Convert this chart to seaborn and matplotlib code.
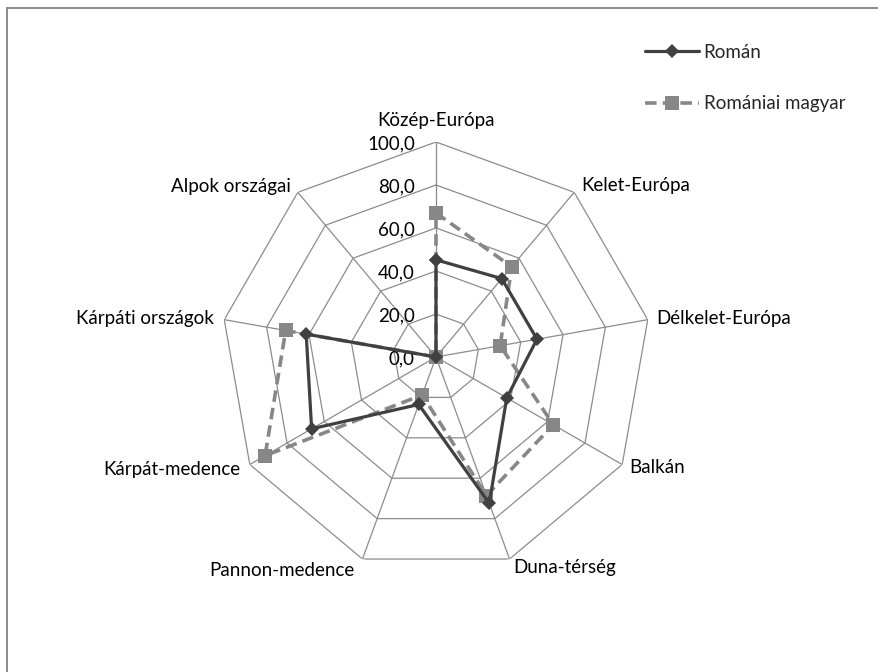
import numpy as np
import pandas as pd
import matplotlib
matplotlib.use("Agg")
import matplotlib.pyplot as plt
import matplotlib.transforms as mtransforms
from matplotlib.lines import Line2D
import seaborn as sns

categories = ["Közép-Európa", "Kelet-Európa", "Délkelet-Európa", "Balkán",
              "Duna-térség", "Pannon-medence", "Kárpát-medence",
              "Kárpáti országok", "Alpok országai"]
roman = [45.2, 47.6, 47.7, 38.0, 72.4, 23.5, 66.8, 61.3, 0.0]
magyar = [67.0, 54.8, 30.3, 63.0, 68.6, 18.8, 91.8, 71.0, 0.0]
series_names = ["Román", "Romániai magyar"]
tick_values = [0, 20, 40, 60, 80, 100]
tick_labels = ["0,0", "20,0", "40,0", "60,0", "80,0", "100,0"]

sns.set_theme(style="white")
plt.rcParams["font.family"] = ["Lato", "DejaVu Sans"]

W, H, DPI = 879, 672, 100
fig = plt.figure(figsize=(W / DPI, H / DPI), dpi=DPI)

cx, cy, R = 436, 357, 215
ax = fig.add_axes([(cx - R) / W, (H - cy - R) / H, 2 * R / W, 2 * R / H],
                  projection="polar")
ax.set_theta_zero_location("N")
ax.set_theta_direction(-1)
ax.set_ylim(0, 100)
ax.set_axis_off()

n = len(categories)
theta = np.linspace(0, 2 * np.pi, n, endpoint=False)
theta_closed = np.append(theta, 2 * np.pi)

grid_color = "#8c8c8c"
for r in tick_values[1:]:
    ax.plot(theta_closed, [r] * (n + 1), color=grid_color, lw=0.9, zorder=1)
for t in theta:
    ax.plot([t, t], [0, 100], color=grid_color, lw=0.9, zorder=1)

df = pd.DataFrame({
    "theta": np.concatenate([theta_closed, theta_closed]),
    "value": roman + [roman[0]] + magyar + [magyar[0]],
    "series": [series_names[0]] * (n + 1) + [series_names[1]] * (n + 1),
})

sns.lineplot(data=df[df.series == series_names[1]], x="theta", y="value",
             sort=False, estimator=None, ax=ax, color="#878787", lw=2.6,
             linestyle=(0, (3.2, 1.7)), marker="s", markersize=9.5,
             markeredgewidth=0, label=series_names[1], zorder=3, legend=False)
sns.lineplot(data=df[df.series == series_names[0]], x="theta", y="value",
             sort=False, estimator=None, ax=ax, color="#404040", lw=2.3,
             marker="D", markersize=7, markeredgewidth=0,
             label=series_names[0], zorder=4, legend=False)
ax.set_ylim(0, 100)
ax.set_axis_off()

fs = 13.5
px = 1.0 / DPI
for v, s in zip(tick_values, tick_labels):
    tr = ax.transData + mtransforms.ScaledTranslation(-21 * px, -2 * px, fig.dpi_scale_trans)
    ax.text(0, v, s, transform=tr, ha="right", va="center", fontsize=fs, color="#000000")

# label offsets in pixels (dx right, dy down) and alignments
label_specs = [
    ("center", 0, -22),
    ("left", 7, -7),
    ("left", 9, -1),
    ("left", 7, 3),
    ("left", 4, 8),
    ("right", -8, 11),
    ("right", -9, 5),
    ("right", -10, -1),
    ("right", -7, -6),
]
for t, lab, (ha, dx, dy) in zip(theta, categories, label_specs):
    tr = ax.transData + mtransforms.ScaledTranslation(dx * px, -dy * px, fig.dpi_scale_trans)
    ax.text(t, 100, lab, transform=tr, ha=ha, va="center", fontsize=fs, color="#000000")

# legend
handles = [
    Line2D([], [], color="#404040", lw=2.3, marker="D", markersize=7, markeredgewidth=0),
    Line2D([], [], color="#878787", lw=2.6, linestyle=(0, (3.2, 1.7)), marker="s",
           markersize=9.5, markeredgewidth=0),
]
fig.legend(handles, series_names, loc="upper left",
           bbox_to_anchor=(645 / W, 1 - 43.5 / H), frameon=False, fontsize=fs,
           handlelength=2.9, handletextpad=0.22, labelspacing=1.85,
           borderaxespad=0, borderpad=0)

# chart area border (top and left visible)
fig.add_artist(Line2D([7.5 / W, 1.0], [1 - 7.5 / H, 1 - 7.5 / H], color="#8c8c8c",
                      lw=1.4, transform=fig.transFigure))
fig.add_artist(Line2D([7.5 / W, 7.5 / W], [0, 1 - 7.5 / H], color="#8c8c8c",
                      lw=1.4, transform=fig.transFigure))

fig.savefig("out.png", dpi=DPI, facecolor="white")
